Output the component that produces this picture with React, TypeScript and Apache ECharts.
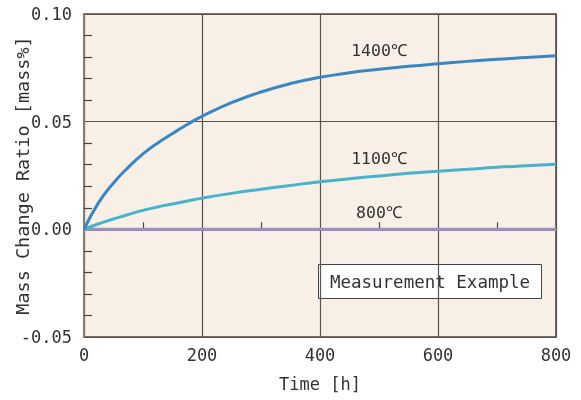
import React, { useEffect, useRef } from "react";
import * as echarts from "echarts";

const timeH = [0, 25, 50, 75, 100, 125, 150, 175, 200, 250, 300, 350, 400, 450, 500, 550, 600, 650, 700, 750, 800];
const ratio1400 = [0, 0.0125, 0.0215, 0.0288, 0.035, 0.0401, 0.0445, 0.0487, 0.0525, 0.0588, 0.0638, 0.0677, 0.0706, 0.0727, 0.0743, 0.0757, 0.0769, 0.078, 0.079, 0.0798, 0.0806];
const ratio1100 = [0, 0.0026, 0.0048, 0.0069, 0.0088, 0.0104, 0.0118, 0.0132, 0.0145, 0.0167, 0.0186, 0.0204, 0.0221, 0.0235, 0.0248, 0.026, 0.027, 0.0279, 0.0288, 0.0295, 0.0302];
const ratio800 = [0, 0, 0, 0, 0, 0, 0, 0, 0, 0, 0, 0, 0, 0, 0, 0, 0, 0, 0, 0, 0];
const seriesNames = ["1400℃", "1100℃", "800℃"];
const labelPos: [number, number][] = [[500, 0.0831], [500, 0.0331], [500, 0.0076]];
const noteText = "Measurement Example";

const MONO = "DejaVu Sans Mono";

export default function App() {
  const ref = useRef<HTMLDivElement>(null);
  useEffect(() => {
    const chart = echarts.init(ref.current!, null, { renderer: "svg" });
    const mk = (vals: number[]) => timeH.map((t, i) => [t, vals[i]]);
    const colors = ["#3b86bf", "#47b4cc", "#9a91c4"];
    const data = [ratio1400, ratio1100, ratio800];
    chart.setOption({
      animation: false,
      grid: {
        left: 84, right: 25, top: 14, bottom: 63,
        outerBoundsMode: "none",
        show: true, backgroundColor: "#f8efe6", borderColor: "#4a4440", borderWidth: 1.5,
      },
      xAxis: {
        type: "value", min: 0, max: 800, interval: 200,
        name: "Time [h]", nameLocation: "middle", nameGap: 38, nameMoveOverlap: false,
        nameTextStyle: { fontFamily: MONO, fontSize: 17, color: "#333" },
        axisLine: { lineStyle: { color: "#85796f", width: 2 } },
        axisTick: { show: false },
        minorTick: { show: true, splitNumber: 2, length: -7, lineStyle: { color: "#4a4440", width: 1.2 } },
        axisLabel: { fontFamily: MONO, fontSize: 17, color: "#333", margin: 9 },
        splitLine: { show: true, lineStyle: { color: "#5a524c", width: 1.2 } },
      },
      yAxis: {
        type: "value", min: -0.05, max: 0.1, interval: 0.05,
        name: "Mass Change Ratio [mass%]", nameLocation: "middle", nameGap: 52, nameMoveOverlap: false,
        nameTextStyle: { fontFamily: MONO, fontSize: 18.5, color: "#333" },
        axisLine: { show: true, lineStyle: { color: "#85796f", width: 2 } },
        axisTick: { show: false },
        minorTick: { show: true, splitNumber: 5, length: -8, lineStyle: { color: "#4a4440", width: 1.2 } },
        axisLabel: { fontFamily: MONO, fontSize: 17, color: "#333", margin: 12, formatter: (v: number) => v.toFixed(2) },
        splitLine: { show: true, lineStyle: { color: "#5a524c", width: 1.2 } },
      },
      series: data.map((vals, i) => ({
        type: "line",
        name: seriesNames[i],
        data: mk(vals),
        smooth: true,
        symbol: "none",
        lineStyle: { color: colors[i], width: 3 },
        z: 5 - i,
        markPoint: {
          symbol: "circle", symbolSize: 0,
          data: [{ coord: labelPos[i], value: seriesNames[i] }],
          label: { show: true, formatter: seriesNames[i], fontFamily: MONO, fontSize: 16.5, color: "#333", position: "inside" },
        },
      })),
      graphic: [
        {
          type: "group", left: 318, top: 264,
          children: [
            { type: "rect", shape: { x: 0, y: 0, width: 223, height: 34 }, style: { fill: "#fff", stroke: "#444", lineWidth: 1 } },
            { type: "text", x: 111.5, y: 17, style: { text: noteText, fontFamily: MONO, fontSize: 17.5, fill: "#333", align: "center", verticalAlign: "middle" } },
          ],
        },
      ],
    });
    return () => chart.dispose();
  }, []);
  return <div ref={ref} style={{ position: "fixed", left: 0, top: 0, width: 581, height: 400 }} />;
}
